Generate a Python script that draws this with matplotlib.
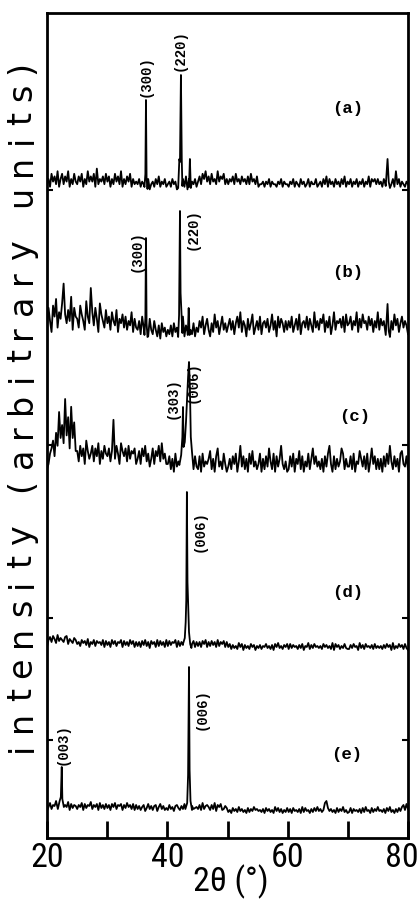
import numpy as np
import matplotlib
matplotlib.use('Agg')
import matplotlib.pyplot as plt
from matplotlib import font_manager

# background noise, one character per step (base 36), per pattern
noise_a = ("35274638257364825374" "36472538464729354637" "46253746382536472534"
           "35243625134253624352" "34253412535261534352" "46375846374538465735"
           "35463745364536374536" "23342435243324352433" "24352432534235243352"
           "34253625342534253624" "35243524352436254535" "34253624352835243243")
noise_b = ("8GA5HCK7EBIRD9FAL6GC" "B7HDA6JC9PE8GB5IDA7F" "9C6EA8F5B9D7C6A8E5B7"
           "6A4C7593B64A63829573" "6483957264C385A64937" "5A7C48B6395D7A48C695"
           "8B6A49C7E5A83B69D47A" "6C49A7B58D6A3C7B95A6" "A7C58B6D49A7C6B85E7A"
           "6B9D5A7C48E6A9B7C5D8" "9C6A8E5B7D9A6C8B5A7E" "6B8A5C7FA6D8B59C7A84")
noise_c = ("359BE8HCPFKDUGNBRFLA" "A6C8B5EA79C6B8D5A7C9" "8B6AM7C95DA8B6C7A9B5"
           "7A5B8C6947B5A8C6D795" "58372946A38274956384" "38294657A3728B463952"
           "47385926C4837295A463" "5927384B6392847C5362" "3849275A38264937B584"
           "6372849C5283746B9374" "4839265A7483926B5837" "3728495C6384729A5483")
noise_d = ("5CFAGD9HBECAFG8DB9EC" "8A6C9B7D5A8C6B9A7C5B" "7A5C8B6A9C5B7A6C8B5A"
           "6A5B7C6A4B8A5C6B7A5C" "6B7A9C5B6A7C5B6A8B5A" "6A5B8C5A6B7A5C6A8B5A"
           "58374639582746385726" "47365846372859463758" "38475637482659374856"
           "46385746392857364843" "37485629473856473846" "46374857293648573842")
noise_e = ("48C6A9E7B9C6A8D5B7A9" "6A8C5B7A9D6A8B5C7A6B" "7A5B8C6A9B5A7C8A6B5A"
           "6958A47B6959A48B6957" "5A6849A7596B48A59678" "6A5C69A85A6C4A8B5697"
           "35274638463527364856" "45362746352847362537" "36274536283745263748"
           "4635CE74635273648352" "37264536273845273648" "4536274835263748A5B6")
noise_scale = [2.6, 2.2, 2.6, 1.0, 1.0]

# peak profiles: (2theta, height above the noise floor)
peaks_a = [[(36.2, 5), (36.35, 18), (36.45, 92), (36.55, 14), (36.7, 3)],
           [(41.8, 4), (42.0, 33), (42.1, 30), (42.26, 117), (42.4, 32), (42.5, 6)],
           [(43.6, 5), (43.75, 33), (43.9, 4)],
           [(76.3, 6), (76.6, 33), (76.8, 10), (77.0, 4)]]
peaks_b = [[(36.2, 8), (36.35, 25), (36.45, 105), (36.55, 20), (36.7, 6)],
           [(41.8, 6), (41.95, 28), (42.1, 132), (42.2, 50), (42.35, 30), (42.5, 10)],
           [(43.4, 8), (43.55, 35), (43.7, 8)],
           [(76.3, 8), (76.6, 39), (76.8, 12), (77.0, 6)]]
peaks_c = [[(42.0, 12), (42.3, 22), (42.5, 40), (42.6, 70), (42.7, 30), (42.9, 35),
            (43.1, 55), (43.3, 80), (43.45, 100), (43.6, 115), (43.75, 90),
            (43.9, 40), (44.1, 25), (44.3, 12)]]
peaks_d = [[(42.6, 8), (42.9, 14), (43.05, 30), (43.15, 52), (43.25, 160),
            (43.35, 70), (43.45, 50), (43.6, 20), (43.8, 8), (44.0, 4)]]
peaks_e = [[(21.8, 6), (22.1, 14), (22.3, 18), (22.45, 48), (22.55, 16), (22.8, 8)],
           [(43.0, 6), (43.3, 12), (43.45, 40), (43.6, 148), (43.7, 45),
            (43.85, 14), (44.1, 5)]]

panel_names = ['(a)', '(b)', '(c)', '(d)', '(e)']
offsets = [646, 495, 361, 186, 23]

# hkl labels: text, 2theta, y
hkl_labels = [('(300)', 36.45, 762), ('(220)', 42.1, 788),
              ('(300)', 34.95, 587), ('(220)', 44.25, 609),
              ('(303)', 40.9, 440), ('(006)', 44.25, 456),
              ('(006)', 45.4, 307),
              ('(006)', 45.75, 129), ('(003)', 22.65, 94)]
name_pos = [(70.0, 730), (70.0, 565), (71.15, 421), (70.0, 246), (69.8, 83)]

x_ticks = [20, 30, 40, 50, 60, 70, 80]
x_ticklabels = ['20', '', '40', '', '60', '', '80']
ylabel_text = 'intensity (arbitrary units)'

# pick a narrow face for the axis numbers if one is there
fl = font_manager.fontManager.ttflist
names = {f.name for f in fl}
tick_kw = dict(family='DejaVu Sans', fontsize=18)
for nm in ['Liberation Sans Narrow', 'Roboto Condensed', 'Open Sans Condensed']:
    if nm in names:
        tick_kw = dict(family=nm, fontsize=24.5)
        break
else:
    if any(f.name == 'DejaVu Sans' and f.stretch == 'condensed' for f in fl):
        tick_kw = dict(family='DejaVu Sans', stretch='condensed', fontsize=22)
mono = 'Liberation Mono' if 'Liberation Mono' in names else 'DejaVu Sans Mono'

fig = plt.figure(figsize=(4.19, 8.99), dpi=100)
ax = fig.add_axes([47 / 419, 61 / 899, 361 / 419, 825 / 899])

noises = [noise_a, noise_b, noise_c, noise_d, noise_e]
peaks = [peaks_a, peaks_b, peaks_c, peaks_d, peaks_e]
for s, sc, pk, off in zip(noises, noise_scale, peaks, offsets):
    y = np.array([int(ch, 36) for ch in s]) * sc
    x = np.linspace(20, 80, len(y))
    keep = np.ones(len(x), bool)
    px, py = [], []
    for prof in pk:
        lo, hi = prof[0][0], prof[-1][0]
        keep &= ~((x >= lo) & (x <= hi))
        px += [p[0] for p in prof]
        py += [p[1] for p in prof]
    xs = np.concatenate([x[keep], px])
    ys = np.concatenate([y[keep], py])
    order = np.argsort(xs)
    ax.plot(xs[order], ys[order] + off, color='black', lw=1.3)

for txt, xx, yy in hkl_labels:
    ax.text(xx, yy, txt, rotation=90, ha='center', va='center',
            fontsize=10, fontweight='bold', family=mono)
for name, (xx, yy) in zip(panel_names, name_pos):
    ax.text(xx, yy, name, ha='center', va='center', fontsize=12.5,
            fontweight='bold', family=mono)

ax.set_xlim(20, 80)
ax.set_ylim(0, 825)
ax.set_xticks(x_ticks)
# the last number sits a bit inside the frame edge in the scan
ax.set_xticklabels(x_ticklabels[:-1] + [''], **tick_kw)
ax.annotate(x_ticklabels[-1], xy=(x_ticks[-1], 0), xycoords=('data', 'axes fraction'),
            xytext=(-6, -4), textcoords='offset pixels', ha='center', va='top', **tick_kw)
ax.set_yticks([98, 220, 393, 648])
ax.set_yticklabels([])
ax.tick_params(axis='x', direction='in', length=12, width=2, pad=3)
ax.tick_params(axis='y', direction='in', length=4, width=1.5, left=True, right=True)
for sp in ax.spines.values():
    sp.set_linewidth(2)

fig.text(231 / 419, 1 - 882 / 899, '2θ (°)', ha='center', va='center', **tick_kw)

# the scanned y label is widely letter-spaced, so set it a letter at a time
fig.canvas.draw()
r = fig.canvas.get_renderer()
ypos = 899 - 752
gap = 10.3
for ch in ylabel_text:
    t = fig.text(22 / 419, ypos / 899, ch, rotation=90, ha='center', va='bottom',
                 fontsize=24)
    h = t.get_window_extent(r).height
    if ch == ' ':
        h = 13
    ypos += h + gap

plt.savefig('out.png', dpi=100)
